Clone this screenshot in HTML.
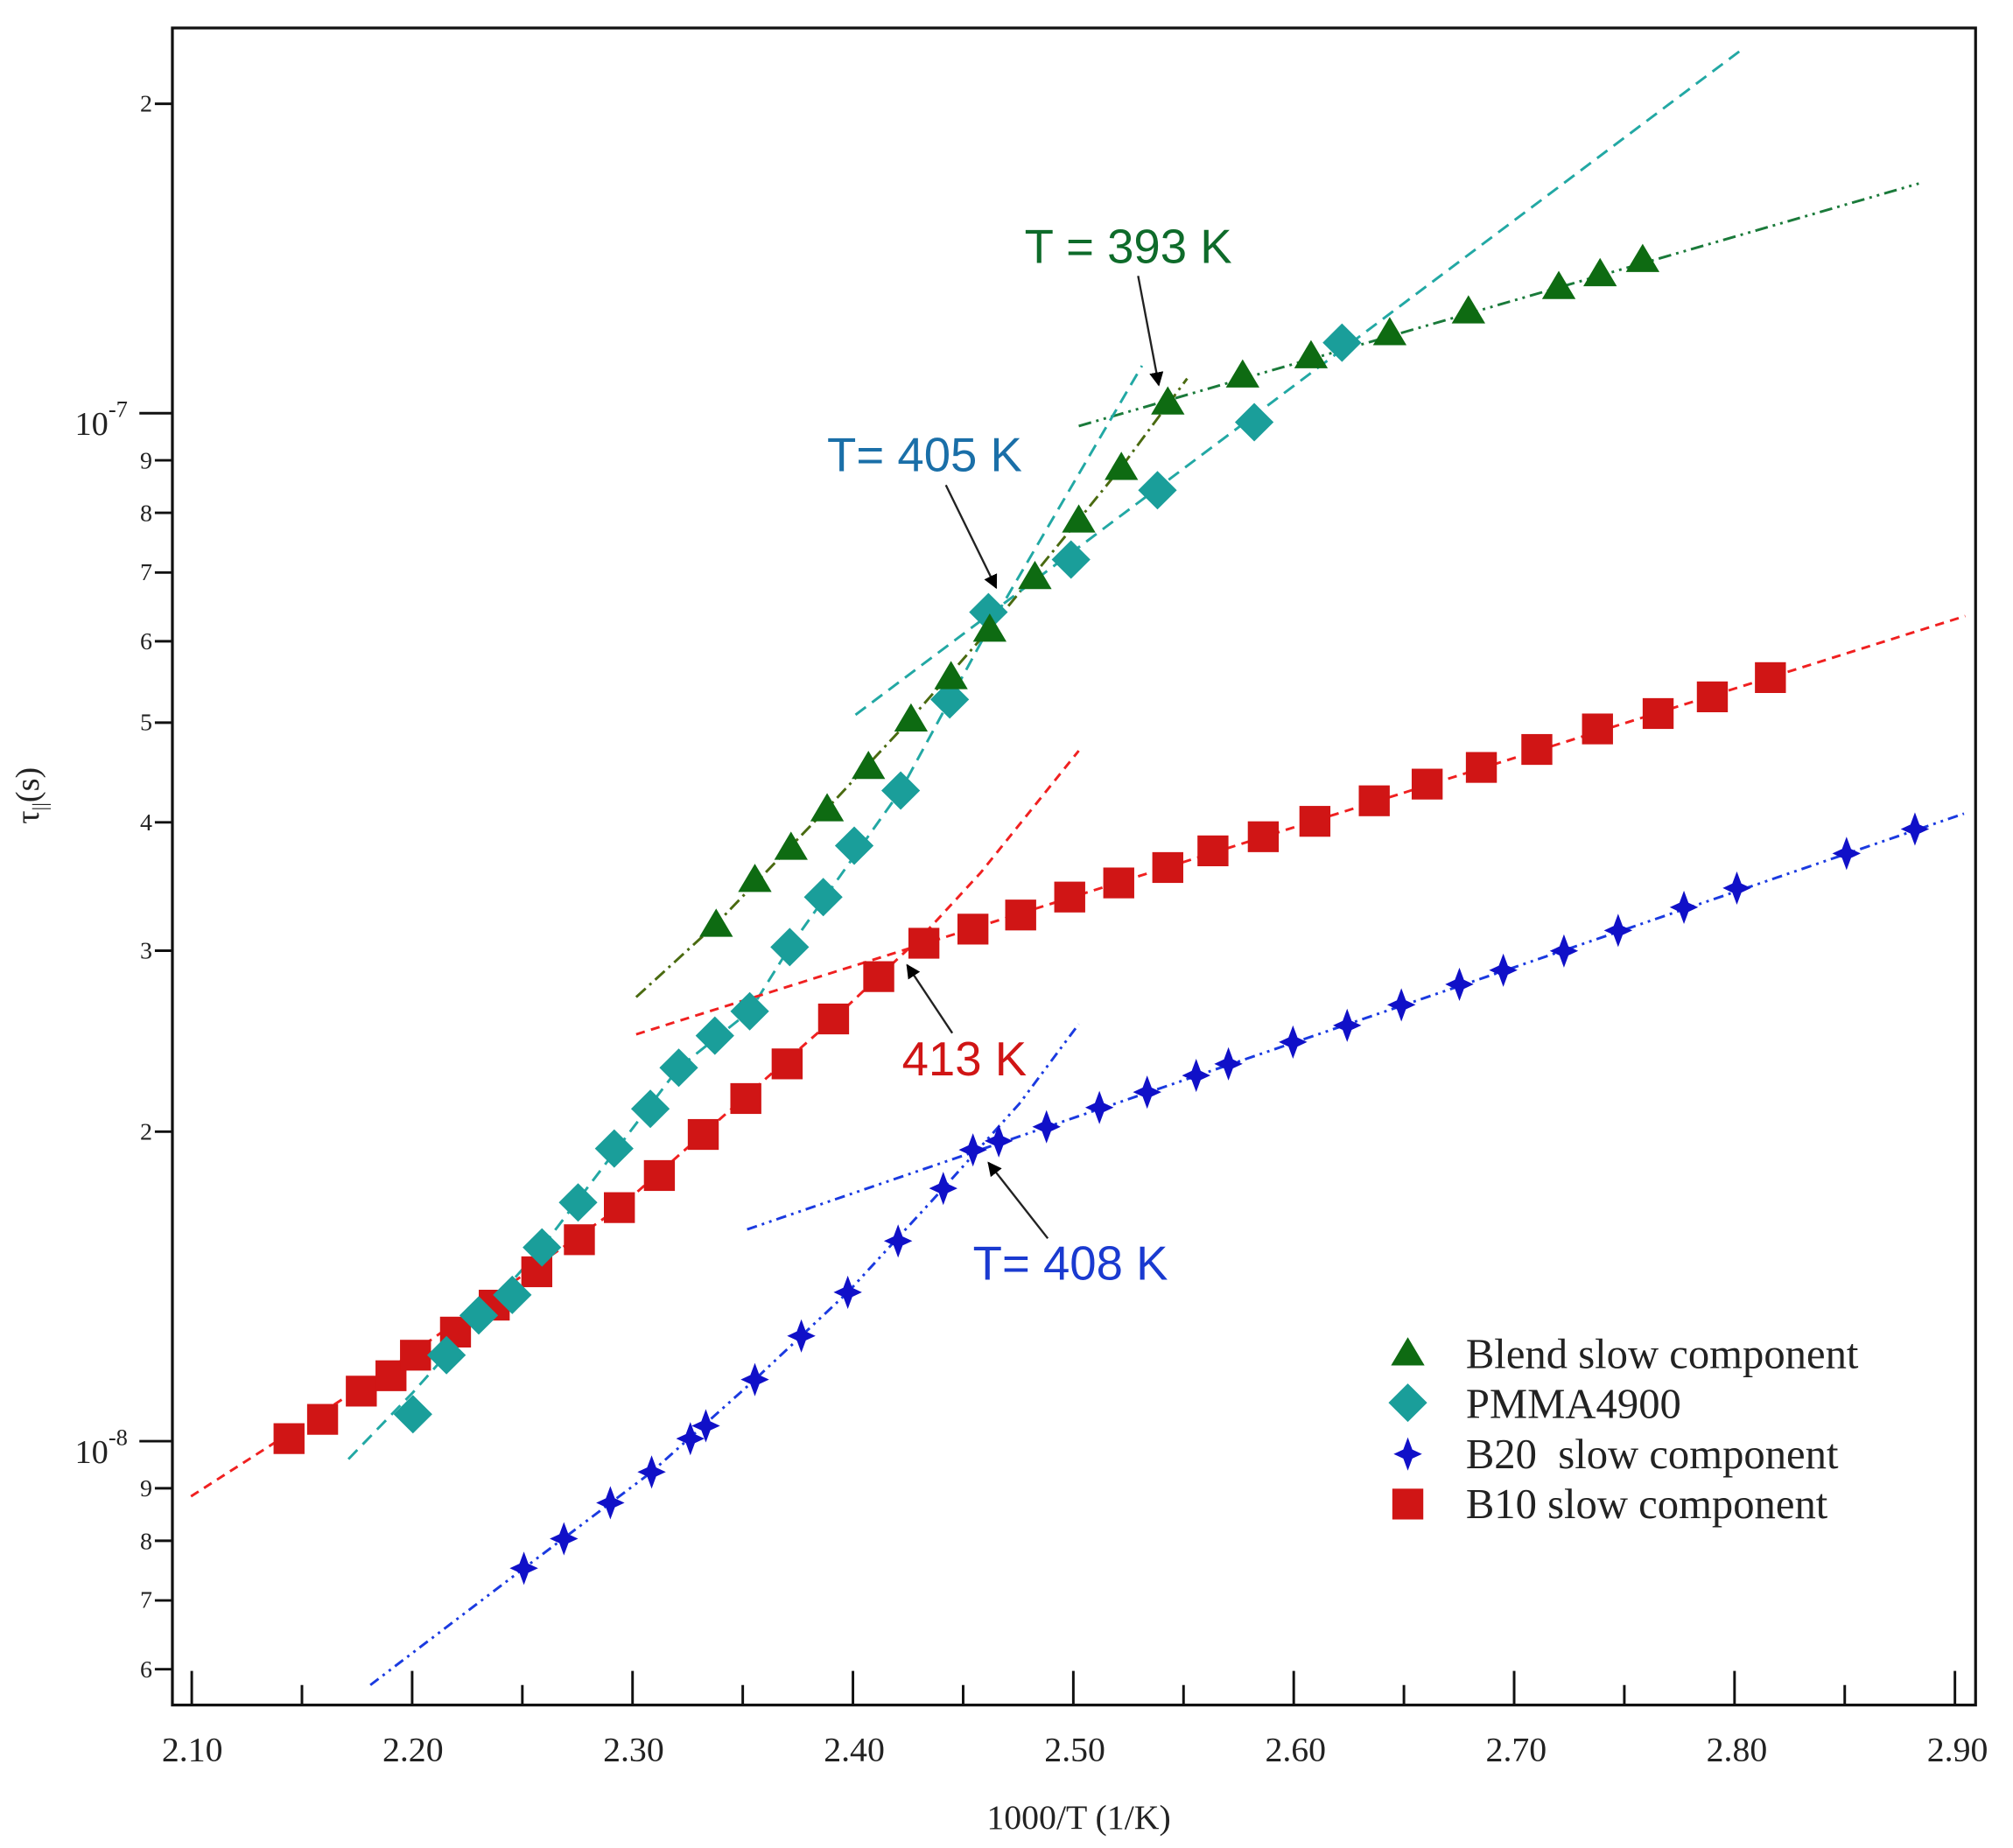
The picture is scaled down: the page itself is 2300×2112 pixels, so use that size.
<!DOCTYPE html>
<html><head><meta charset="utf-8"><style>
html,body{margin:0;padding:0;background:#fff;}
svg{display:block;}
text{font-family:"Liberation Serif",serif;}
.s{font-family:"Liberation Sans",sans-serif;}
</style></head><body>
<svg width="2300" height="2112" viewBox="0 0 1560 1440" preserveAspectRatio="none" xmlns="http://www.w3.org/2000/svg">
<defs>
<polygon id="tri" points="0,-12 13,10 -13,10" fill="#0e6b12"/>
<polygon id="dia" points="0,-15 15,0 0,15 -15,0" fill="#1a9e9a"/>
<rect id="sq" x="-12" y="-12" width="24" height="24" fill="#d01515"/>
<polygon id="star" points="0,-13 3.5,-3.5 11,0 3.5,3.5 0,13 -3.5,3.5 -11,0 -3.5,-3.5" fill="#1010c8"/>
<marker id="ah" viewBox="0 0 10 10" refX="9" refY="5" markerWidth="11" markerHeight="11" orient="auto-start-reverse" markerUnits="userSpaceOnUse"><path d="M0,0 L10,5 L0,10 z" fill="#000"/></marker>
</defs>
<rect x="133.6" y="21.8" width="1397.4" height="1306.8" fill="none" stroke="#111" stroke-width="2.2"/>
<g stroke="#111" stroke-width="2">
<line x1="120" y1="80.9" x2="133.6" y2="80.9"/>
<line x1="108" y1="322" x2="133.6" y2="322"/>
<line x1="120" y1="358.7" x2="133.6" y2="358.7"/>
<line x1="120" y1="399.6" x2="133.6" y2="399.6"/>
<line x1="120" y1="446.1" x2="133.6" y2="446.1"/>
<line x1="120" y1="499.7" x2="133.6" y2="499.7"/>
<line x1="120" y1="563.1" x2="133.6" y2="563.1"/>
<line x1="120" y1="640.8" x2="133.6" y2="640.8"/>
<line x1="120" y1="740.8" x2="133.6" y2="740.8"/>
<line x1="120" y1="881.8" x2="133.6" y2="881.8"/>
<line x1="108" y1="1123" x2="133.6" y2="1123"/>
<line x1="120" y1="1159.7" x2="133.6" y2="1159.7"/>
<line x1="120" y1="1200.6" x2="133.6" y2="1200.6"/>
<line x1="120" y1="1247.1" x2="133.6" y2="1247.1"/>
<line x1="120" y1="1300.7" x2="133.6" y2="1300.7"/>
</g>
<g font-size="19" text-anchor="end" fill="#222">
<text x="118" y="87">2</text>
<text x="118" y="365">9</text>
<text x="118" y="406">8</text>
<text x="118" y="452">7</text>
<text x="118" y="506">6</text>
<text x="118" y="569">5</text>
<text x="118" y="647">4</text>
<text x="118" y="747">3</text>
<text x="118" y="888">2</text>
<text x="118" y="1166">9</text>
<text x="118" y="1207">8</text>
<text x="118" y="1253">7</text>
<text x="118" y="1307">6</text>
</g>
<g font-size="26" fill="#222">
<text x="58" y="339">10<tspan font-size="18" dy="-14">-7</tspan></text>
<text x="58" y="1140">10<tspan font-size="18" dy="-14">-8</tspan></text>
</g>
<text transform="translate(30,620) rotate(-90)" font-size="26" text-anchor="middle" fill="#222">τ<tspan font-size="16" dy="6">||</tspan><tspan dy="-6">(s)</tspan></text>
<g stroke="#111" stroke-width="2">
<line x1="148.6" y1="1328.6" x2="148.6" y2="1302"/>
<line x1="234" y1="1328.6" x2="234" y2="1313"/>
<line x1="319.4" y1="1328.6" x2="319.4" y2="1302"/>
<line x1="404.8" y1="1328.6" x2="404.8" y2="1313"/>
<line x1="490.2" y1="1328.6" x2="490.2" y2="1302"/>
<line x1="575.6" y1="1328.6" x2="575.6" y2="1313"/>
<line x1="661" y1="1328.6" x2="661" y2="1302"/>
<line x1="746.4" y1="1328.6" x2="746.4" y2="1313"/>
<line x1="831.8" y1="1328.6" x2="831.8" y2="1302"/>
<line x1="917.2" y1="1328.6" x2="917.2" y2="1313"/>
<line x1="1002.6" y1="1328.6" x2="1002.6" y2="1302"/>
<line x1="1088" y1="1328.6" x2="1088" y2="1313"/>
<line x1="1173.4" y1="1328.6" x2="1173.4" y2="1302"/>
<line x1="1258.8" y1="1328.6" x2="1258.8" y2="1313"/>
<line x1="1344.2" y1="1328.6" x2="1344.2" y2="1302"/>
<line x1="1429.6" y1="1328.6" x2="1429.6" y2="1313"/>
<line x1="1515" y1="1328.6" x2="1515" y2="1302"/>
</g>
<g font-size="27" text-anchor="middle" fill="#222">
<text x="149" y="1372">2.10</text>
<text x="320" y="1372">2.20</text>
<text x="491" y="1372">2.30</text>
<text x="662" y="1372">2.40</text>
<text x="833" y="1372">2.50</text>
<text x="1004" y="1372">2.60</text>
<text x="1175" y="1372">2.70</text>
<text x="1346" y="1372">2.80</text>
<text x="1517" y="1372">2.90</text>
<text x="836" y="1425">1000/T (1/K)</text>
</g>
<g fill="none" stroke-width="2">
<polyline points="493,777 555,720 641,630 706,560 767,490 836,405 869,364 920,295" stroke="#4a6a10" stroke-dasharray="10,4,2,4"/>
<line x1="836" y1="332" x2="1487" y2="143" stroke="#1a7a3a" stroke-dasharray="10,4,2,4,2,4"/>
<polyline points="270,1137 320,1085 420,972 526,832 581,788 612,738 698,616 766,490 885,285" stroke="#22a8a4" stroke-dasharray="10,6"/>
<line x1="663" y1="557" x2="1352" y2="37" stroke="#22a8a4" stroke-dasharray="10,6"/>
<polyline points="148,1166 300,1068 480,941 646,794 716,728 760,680 836,585" stroke="#f02020" stroke-dasharray="7,5"/>
<line x1="493" y1="806" x2="1523" y2="480" stroke="#f02020" stroke-dasharray="7,5"/>
<polyline points="287,1313 406,1222 505,1147 585,1075 657,1007 731,926 790,860 836,798" stroke="#1a3ae0" stroke-dasharray="8,4,2,4,2,4"/>
<line x1="579" y1="958" x2="1522" y2="634" stroke="#1a3ae0" stroke-dasharray="8,4,2,4,2,4"/>
</g>
<g>
<use href="#sq" x="224" y="1121"/><use href="#sq" x="250" y="1106"/><use href="#sq" x="280" y="1084"/><use href="#sq" x="303" y="1072"/><use href="#sq" x="322" y="1056"/><use href="#sq" x="353" y="1038"/><use href="#sq" x="383" y="1017"/><use href="#sq" x="416" y="991"/><use href="#sq" x="449" y="966"/><use href="#sq" x="480" y="941"/><use href="#sq" x="511" y="916"/><use href="#sq" x="545" y="884"/><use href="#sq" x="578" y="856"/><use href="#sq" x="610" y="829"/><use href="#sq" x="646" y="794"/><use href="#sq" x="681" y="761"/><use href="#sq" x="716" y="735"/><use href="#sq" x="754" y="724"/><use href="#sq" x="791" y="713"/><use href="#sq" x="829" y="699"/><use href="#sq" x="867" y="688"/><use href="#sq" x="905" y="676"/><use href="#sq" x="940" y="663"/><use href="#sq" x="979" y="652"/><use href="#sq" x="1019" y="640"/><use href="#sq" x="1065" y="624"/><use href="#sq" x="1106" y="611"/><use href="#sq" x="1148" y="598"/><use href="#sq" x="1191" y="584"/><use href="#sq" x="1238" y="568"/><use href="#sq" x="1285" y="556"/><use href="#sq" x="1327" y="543"/><use href="#sq" x="1372" y="528"/>
</g>
<g>
<use href="#dia" x="320" y="1102"/><use href="#dia" x="346" y="1056"/><use href="#dia" x="371" y="1025"/><use href="#dia" x="397" y="1009"/><use href="#dia" x="420" y="972"/><use href="#dia" x="448" y="937"/><use href="#dia" x="476" y="895"/><use href="#dia" x="504" y="864"/><use href="#dia" x="526" y="832"/><use href="#dia" x="554" y="807"/><use href="#dia" x="581" y="788"/><use href="#dia" x="612" y="738"/><use href="#dia" x="638" y="699"/><use href="#dia" x="662" y="659"/><use href="#dia" x="698" y="616"/><use href="#dia" x="736" y="545"/><use href="#dia" x="766" y="477"/><use href="#dia" x="830" y="436"/><use href="#dia" x="897" y="382"/><use href="#dia" x="972" y="329"/><use href="#dia" x="1040" y="267"/>
</g>
<g>
<use href="#tri" x="555" y="720"/><use href="#tri" x="585" y="685"/><use href="#tri" x="613" y="660"/><use href="#tri" x="641" y="630"/><use href="#tri" x="673" y="597"/><use href="#tri" x="706" y="560"/><use href="#tri" x="737" y="527"/><use href="#tri" x="767" y="490"/><use href="#tri" x="802" y="449"/><use href="#tri" x="836" y="405"/><use href="#tri" x="869" y="364"/><use href="#tri" x="905" y="313"/><use href="#tri" x="963" y="292"/><use href="#tri" x="1016" y="277"/><use href="#tri" x="1077" y="259"/><use href="#tri" x="1138" y="242"/><use href="#tri" x="1208" y="223"/><use href="#tri" x="1240" y="213"/><use href="#tri" x="1273" y="202"/>
</g>
<g>
<use href="#star" x="406" y="1222"/><use href="#star" x="437" y="1199"/><use href="#star" x="473" y="1171"/><use href="#star" x="505" y="1147"/><use href="#star" x="535" y="1121"/><use href="#star" x="547" y="1111"/><use href="#star" x="585" y="1075"/><use href="#star" x="621" y="1041"/><use href="#star" x="657" y="1007"/><use href="#star" x="696" y="967"/><use href="#star" x="731" y="926"/><use href="#star" x="754" y="896"/><use href="#star" x="774" y="889"/><use href="#star" x="811" y="878"/><use href="#star" x="852" y="863"/><use href="#star" x="889" y="851"/><use href="#star" x="927" y="838"/><use href="#star" x="952" y="829"/><use href="#star" x="1002" y="812"/><use href="#star" x="1044" y="799"/><use href="#star" x="1086" y="783"/><use href="#star" x="1131" y="767"/><use href="#star" x="1165" y="756"/><use href="#star" x="1212" y="741"/><use href="#star" x="1254" y="725"/><use href="#star" x="1305" y="707"/><use href="#star" x="1346" y="692"/><use href="#star" x="1431" y="665"/><use href="#star" x="1484" y="646"/>
</g>
<g stroke="#222" stroke-width="1.6" fill="none">
<line x1="882" y1="215" x2="898" y2="300" marker-end="url(#ah)"/>
<line x1="733" y1="378" x2="772" y2="458" marker-end="url(#ah)"/>
<line x1="738" y1="805" x2="703" y2="752" marker-end="url(#ah)"/>
<line x1="812" y1="965" x2="766" y2="906" marker-end="url(#ah)"/>
</g>
<g class="s" font-size="37">
<text class="s" x="794" y="205" fill="#0e6b2a">T = 393 K</text>
<text class="s" x="641" y="367" fill="#1a6fa8">T= 405 K</text>
<text class="s" x="699" y="838" fill="#d01515">413 K</text>
<text class="s" x="754" y="997" fill="#1a3ad0">T= 408 K</text>
</g>
<use href="#tri" x="1091" y="1054"/>
<use href="#dia" x="1091" y="1093"/>
<use href="#star" x="1091" y="1133"/>
<use href="#sq" x="1091" y="1172"/>
<g font-size="33" fill="#222">
<text x="1136" y="1066">Blend slow component</text>
<text x="1136" y="1105">PMMA4900</text>
<text x="1136" y="1144" xml:space="preserve">B20  slow component</text>
<text x="1136" y="1183">B10 slow component</text>
</g>
</svg>
</body></html>
